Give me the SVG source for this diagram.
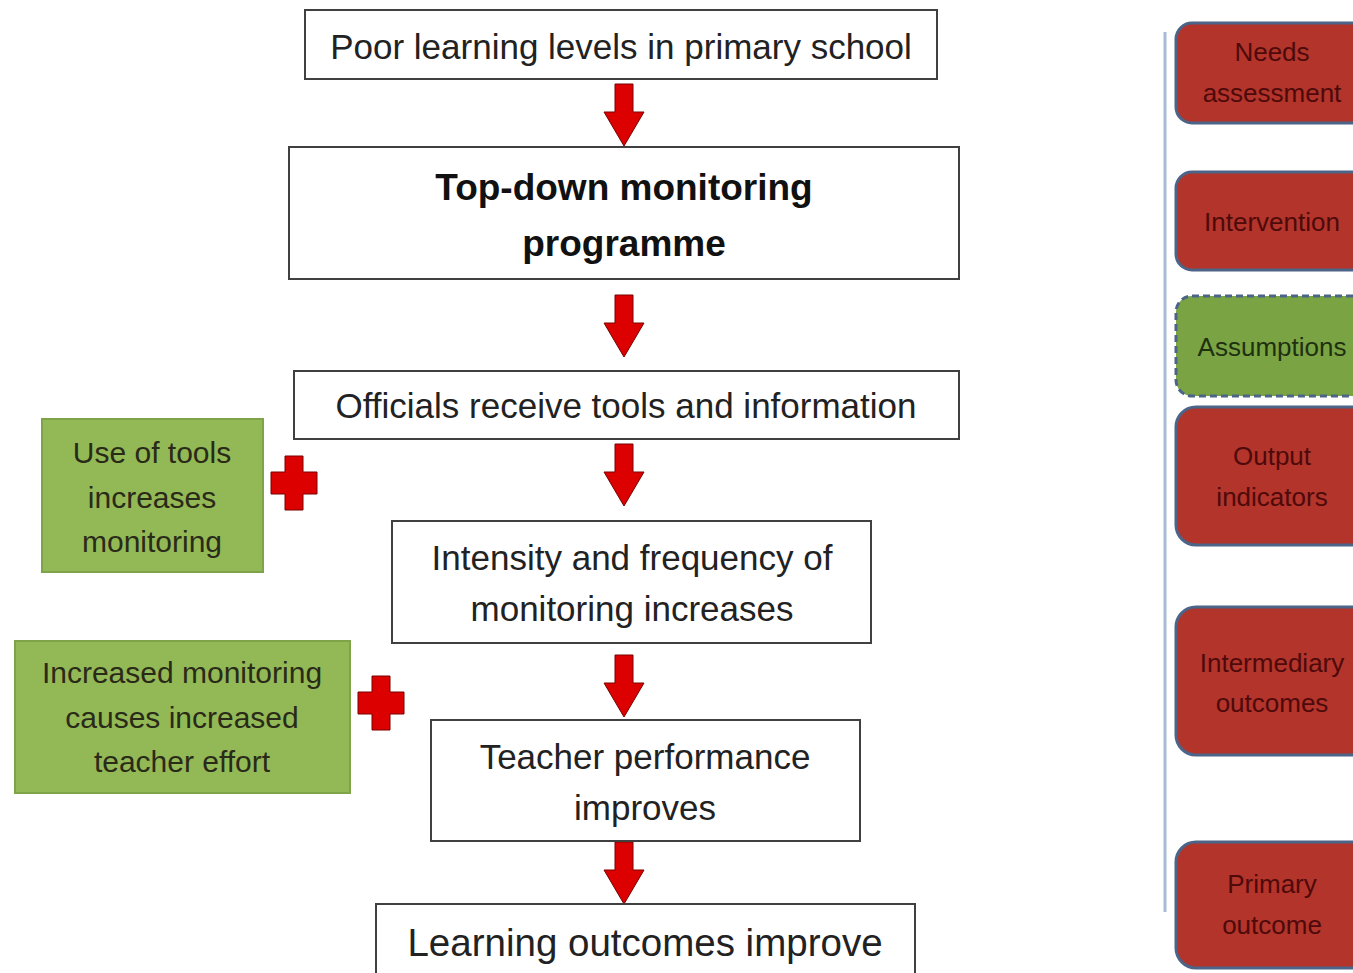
<svg xmlns="http://www.w3.org/2000/svg" xmlns:xlink="http://www.w3.org/1999/xlink" width="1353" height="973" viewBox="0 0 1353 973">
<style>
.box{fill:#fff;stroke:#404040;stroke-width:2}
.t{font-family:"Liberation Sans",Arial,sans-serif;fill:#222;text-anchor:middle}
.main{font-size:35px}
.bold{font-size:37px;font-weight:bold;fill:#111}
.green{fill:#93b957;stroke:#7fa348;stroke-width:2}
.gt{font-size:30px;fill:#2a2a18}
.red{fill:#b2342a;stroke:#4c6488;stroke-width:3}
.rt{font-size:26px;fill:#4e0a0a}
.arr{fill:#dd0000;stroke:#7a0000;stroke-width:1}
</style>
<defs>
<path id="arr" class="arr" d="M-9,0 H9 V28 H20 L0,62 L-20,28 H-9 Z"/>
<path id="plus" class="arr" d="M-9,-27 H9 V-11 H23 V11 H9 V27 H-9 V11 H-23 V-11 H-9 Z"/>
</defs>
<rect width="1353" height="973" fill="#fff"/>

<g id="connectors">
<use xlink:href="#arr" x="624" y="84"/>
<use xlink:href="#arr" x="624" y="295"/>
<use xlink:href="#arr" x="624" y="444"/>
<use xlink:href="#arr" x="624" y="655"/>
<use xlink:href="#arr" x="624" y="842"/>
<use xlink:href="#plus" x="294" y="483"/>
<use xlink:href="#plus" x="381" y="703"/>
</g>

<g id="n1"><rect class="box" x="305" y="10" width="632" height="69"/>
<text class="t main" x="621" y="59">Poor learning levels in primary school</text></g>
<g id="n2"><rect class="box" x="289" y="147" width="670" height="132"/>
<text class="t bold" x="624" y="200">Top-down monitoring</text>
<text class="t bold" x="624" y="256">programme</text></g>
<g id="n3"><rect class="box" x="294" y="371" width="665" height="68"/>
<text class="t main" x="626" y="418">Officials receive tools and information</text></g>
<g id="n4"><rect class="box" x="392" y="521" width="479" height="122"/>
<text class="t main" x="632" y="570">Intensity and frequency of</text>
<text class="t main" x="632" y="621">monitoring increases</text></g>
<g id="n5"><rect class="box" x="431" y="720" width="429" height="121"/>
<text class="t main" x="645" y="769">Teacher performance</text>
<text class="t main" x="645" y="820">improves</text></g>
<g id="n6"><rect class="box" x="376" y="904" width="539" height="80"/>
<text class="t main" x="645" y="956" style="font-size:38.5px">Learning outcomes improve</text></g>

<g id="a1"><rect class="green" x="42" y="419" width="221" height="153"/>
<text class="t gt" x="152" y="463">Use of tools</text>
<text class="t gt" x="152" y="508">increases</text>
<text class="t gt" x="152" y="552">monitoring</text></g>
<g id="a2"><rect class="green" x="15" y="641" width="335" height="152"/>
<text class="t gt" x="182" y="683">Increased monitoring</text>
<text class="t gt" x="182" y="728">causes increased</text>
<text class="t gt" x="182" y="772">teacher effort</text></g>

<g id="legend-line"><line x1="1165" y1="32" x2="1165" y2="912" stroke="#a9bcd6" stroke-width="3"/></g>
<g id="l1"><rect class="red" x="1176" y="23" width="200" height="100" rx="16"/>
<text class="t rt" x="1272" y="61">Needs</text>
<text class="t rt" x="1272" y="102">assessment</text></g>
<g id="l2"><rect class="red" x="1176" y="172" width="200" height="98" rx="16"/>
<text class="t rt" x="1272" y="231">Intervention</text></g>
<g id="l3"><rect x="1176" y="296" width="200" height="100" rx="16" fill="#7aa444" stroke="#4c6488" stroke-width="3" stroke-dasharray="7,4"/>
<text class="t rt" x="1272" y="356" style="fill:#1f3010">Assumptions</text></g>
<g id="l4"><rect class="red" x="1176" y="407" width="200" height="138" rx="20"/>
<text class="t rt" x="1272" y="465">Output</text>
<text class="t rt" x="1272" y="506">indicators</text></g>
<g id="l5"><rect class="red" x="1176" y="607" width="200" height="148" rx="20"/>
<text class="t rt" x="1272" y="672">Intermediary</text>
<text class="t rt" x="1272" y="712">outcomes</text></g>
<g id="l6"><rect class="red" x="1176" y="842" width="200" height="126" rx="20"/>
<text class="t rt" x="1272" y="893">Primary</text>
<text class="t rt" x="1272" y="934">outcome</text></g>
</svg>
